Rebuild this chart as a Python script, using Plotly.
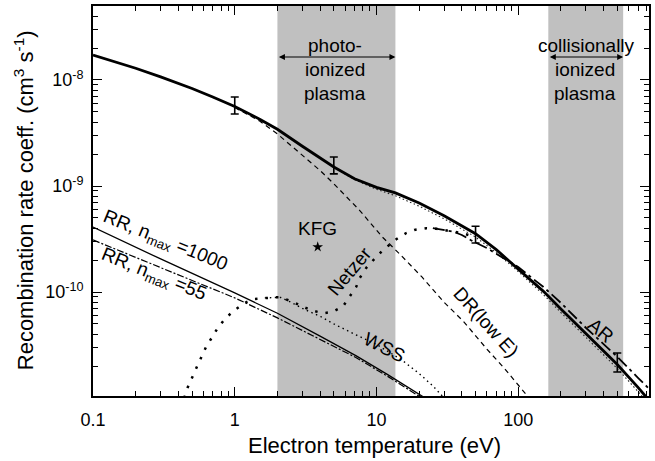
import numpy as np
import plotly.graph_objects as go

# ---------------- data ----------------
main_T = [0.1, 0.2, 0.3, 0.5, 0.7, 1, 1.5, 2, 3, 5, 7, 10, 13.6, 20, 30, 50, 70, 100, 150, 200, 300, 500, 700, 850]
main_rate = [1.72e-8, 1.29e-8, 1.07e-8, 8.32e-9, 6.92e-9, 5.62e-9, 4.27e-9, 3.43e-9, 2.37e-9, 1.51e-9, 1.17e-9,
             9.7e-10, 8.6e-10, 6.9e-10, 5.25e-10, 3.55e-10, 2.51e-10, 1.66e-10, 1.02e-10, 6.92e-11, 4.07e-11,
             2.07e-11, 1.26e-11, 9.3e-12]

sum_T = [5, 7, 10, 13.6, 20, 30, 50, 70, 100, 150, 200, 300, 500, 700, 850]
sum_rate = [1.50e-9, 1.15e-9, 9.3e-10, 8.1e-10, 6.45e-10, 4.9e-10, 3.3e-10, 2.35e-10, 1.56e-10, 9.5e-11, 6.4e-11,
            3.75e-11, 1.9e-11, 1.15e-11, 8.5e-12]

drlow_T = [1, 1.5, 2, 3, 4, 5, 7.6, 11, 14.5, 21, 30, 41, 60, 80, 115, 130]
drlow_rate = [5.5e-9, 4.1e-9, 3.1e-9, 1.95e-9, 1.4e-9, 1.05e-9, 5.9e-10, 3.3e-10, 2.3e-10, 1.38e-10, 8.0e-11,
              5.3e-11, 2.9e-11, 1.9e-11, 1.05e-11, 8.7e-12]

ar_T = [25, 30, 35, 40, 47, 60, 70, 100, 150, 200, 300, 500, 700, 850]
ar_rate = [4.0e-10, 3.85e-10, 3.7e-10, 3.45e-10, 3.05e-10, 2.6e-10, 2.3e-10, 1.72e-10, 1.12e-10, 7.9e-11, 4.6e-11,
           2.45e-11, 1.55e-11, 1.2e-11]

netzer_T = [0.44, 0.467, 0.54, 0.625, 0.76, 0.864, 1.02, 1.2, 1.38, 1.63, 1.91, 2.1, 2.56, 3.0, 3.5, 4.2, 4.9,
            5.8, 6.45, 7.2, 7.6, 8.5, 10, 11, 13.8, 16.2, 18.5, 22.5, 26.5, 31, 40, 50]
netzer_rate = [1.0e-11, 1.27e-11, 1.96e-11, 3.0e-11, 4.6e-11, 5.7e-11, 6.9e-11, 8.0e-11, 8.6e-11, 8.8e-11,
               8.9e-11, 8.9e-11, 8.1e-11, 7.3e-11, 6.7e-11, 6.3e-11, 6.5e-11, 7.3e-11, 9.0e-11, 1.12e-10,
               1.35e-10, 1.7e-10, 2.15e-10, 2.45e-10, 3.15e-10, 3.6e-10, 3.85e-10, 4.0e-10, 3.95e-10, 3.8e-10,
               3.6e-10, 3.3e-10]

wss_T = [1.63, 1.91, 2.1, 2.5, 3, 4, 5, 7, 10, 15, 20, 25, 30]
wss_rate = [8.8e-11, 8.9e-11, 8.9e-11, 8.0e-11, 7.0e-11, 5.9e-11, 5.0e-11, 4.0e-11, 3.2e-11, 2.3e-11, 1.7e-11,
            1.3e-11, 1.0e-11]

rr1000_T = [0.1, 0.3, 1, 2, 4, 7.2, 12, 21.8, 25]
rr1000_rate = [4.1e-10, 2.05e-10, 9.8e-11, 6.3e-11, 3.83e-11, 2.5e-11, 1.66e-11, 1.0e-11, 9.0e-12]

rr55_T = [0.1, 0.3, 1, 2, 4, 7.2, 12, 21, 25]
rr55_rate = [3.1e-10, 1.7e-10, 8.8e-11, 5.7e-11, 3.6e-11, 2.4e-11, 1.6e-11, 1.0e-11, 8.6e-12]

err_T = [1, 5, 50, 500]
err_rate = [5.75e-9, 1.56e-9, 3.47e-10, 2.17e-11]
err_plus = [1.17e-9, 3.2e-10, 7.0e-11, 4.9e-12]
err_minus = [0.97e-9, 2.6e-10, 5.7e-11, 4.1e-12]

kfg_T = [3.85]
kfg_rate = [2.66e-10]

band_photo = [2.0, 13.6]
band_coll = [163, 550]

x_tickvals = [0.1, 1, 10, 100]
x_ticktext = ["0.1", "1", "10", "100"]
y_tickvals = [1e-10, 1e-9, 1e-8]
y_ticktext = ["10<sup>-10</sup>", "10<sup>-9</sup>", "10<sup>-8</sup>"]

# ---------------- figure ----------------
W, H = 655, 461
ML, MR, MT, MB = 93, 4, 6, 65
PW, PH = W - ML - MR, H - MT - MB
XR = [-1.0, -1.0 + PW / 142.25]
YR = [-10.981, -7.302]
FONT = "Liberation Sans, Arial, sans-serif"

def px_x(p):
    return (p - ML) / PW

def px_y(p):
    return (H - MB - p) / PH

fig = go.Figure()

def line(xs, ys, width, dash="solid", color="black"):
    fig.add_trace(go.Scatter(x=xs, y=ys, mode="lines", line=dict(color=color, width=width, dash=dash),
                             hoverinfo="skip", showlegend=False))

line(rr1000_T, rr1000_rate, 1.3)
line(rr55_T, rr55_rate, 1.2, "7px,2px,2px,2px")
line(wss_T, wss_rate, 1.4, "1.5px,3.5px")
line(netzer_T, netzer_rate, 2.5, "2.5px,8px")
line(drlow_T, drlow_rate, 1.2, "5px,4px")
line(sum_T, sum_rate, 1.1, "1.5px,2.5px", "#222")
line(ar_T, ar_rate, 1.8, "12px,4px,3px,4px")
line(main_T, main_rate, 2.8)

fig.add_trace(go.Scatter(x=err_T, y=err_rate, mode="markers", marker=dict(size=1, color="black"),
                         error_y=dict(type="data", array=err_plus, arrayminus=err_minus, color="black",
                                      thickness=1.6, width=4), hoverinfo="skip", showlegend=False))
fig.add_trace(go.Scatter(x=kfg_T, y=kfg_rate, mode="markers", marker=dict(symbol="star", size=8, color="black"),
                         hoverinfo="skip", showlegend=False))

shapes = []
for b in (band_photo, band_coll):
    shapes.append(dict(type="rect", xref="x", yref="paper", x0=b[0], x1=b[1], y0=0, y1=1,
                       fillcolor="#c0c0c0", line=dict(width=0), layer="below"))

minor_x = [m * 10.0 ** e for e in (-1, 0, 1, 2) for m in range(2, 10)]
minor_y = [m * 10.0 ** e for e in (-11, -10, -9, -8) for m in range(2, 10)]

axis_common = dict(type="log", showline=True, linecolor="black", linewidth=1.8, mirror="ticks",
                   ticks="inside", ticklen=9, tickwidth=1.4, tickcolor="black", showgrid=False, zeroline=False,
                   tickfont=dict(family=FONT, size=18, color="black"))

fig.update_layout(
    width=W, height=H, margin=dict(l=ML, r=MR, t=MT, b=MB),
    paper_bgcolor="white", plot_bgcolor="white", showlegend=False,
    shapes=shapes,
    xaxis=dict(range=XR, tickmode="array", tickvals=x_tickvals, ticktext=x_ticktext,
               minor=dict(tickmode="array", tickvals=minor_x, ticks="inside", ticklen=5, tickwidth=1.2,
                          tickcolor="black", showgrid=False), ticklabelstandoff=6, **axis_common),
    yaxis=dict(range=YR, tickmode="array", tickvals=y_tickvals, ticktext=y_ticktext,
               minor=dict(tickmode="array", tickvals=minor_y, ticks="inside", ticklen=5, tickwidth=1.2,
                          tickcolor="black", showgrid=False), ticklabelstandoff=4, **axis_common),
)

ann = []

def text(s, px, py, size=19, angle=0):
    ann.append(dict(text=s, xref="paper", yref="paper", x=px_x(px), y=px_y(py), xanchor="center",
                    yanchor="middle", showarrow=False, textangle=angle,
                    font=dict(family=FONT, size=size, color="black")))

# axis titles
text("Electron temperature (eV)", 376, 445, 22)
text("Recombination rate coeff. (cm<sup>3</sup> s<sup>-1</sup>)", 24, 200, 22, -90)

# band labels
text("photo-", 336, 46)
text("ionized", 336, 70)
text("plasma", 336, 93)
text("collisionally", 588, 46)
text("ionized", 587, 70)
text("plasma", 587, 93)

# arrows
y_arrow = YR[1] - (57 - MT) / 106.0
for b in (band_photo, band_coll):
    ann.append(dict(text="", xref="x", yref="y", axref="x", ayref="y", x=np.log10(b[1]), y=y_arrow,
                    ax=np.log10(b[0]), ay=y_arrow, showarrow=True, arrowside="end+start", arrowhead=2,
                    arrowsize=1, arrowwidth=1.2, arrowcolor="black", standoff=0, startstandoff=0))

# curve labels
text("RR, n<sub>max</sub> =1000", 165, 241, 19, 22)
text("RR, n<sub>max</sub> =55", 154, 275, 19, 22)
text("KFG", 318, 228, 19)
text("Netzer", 350, 271, 19, -50)
text("DR(low E)", 488, 322, 19, 48)
text("WSS", 386, 347, 19, 27)
text("AR", 603, 330, 19, 40)

fig.update_layout(annotations=ann)
fig.write_html("out.html", config={"displayModeBar": False},
               post_script="document.body.style.margin='0px';document.body.style.overflow='hidden';")
